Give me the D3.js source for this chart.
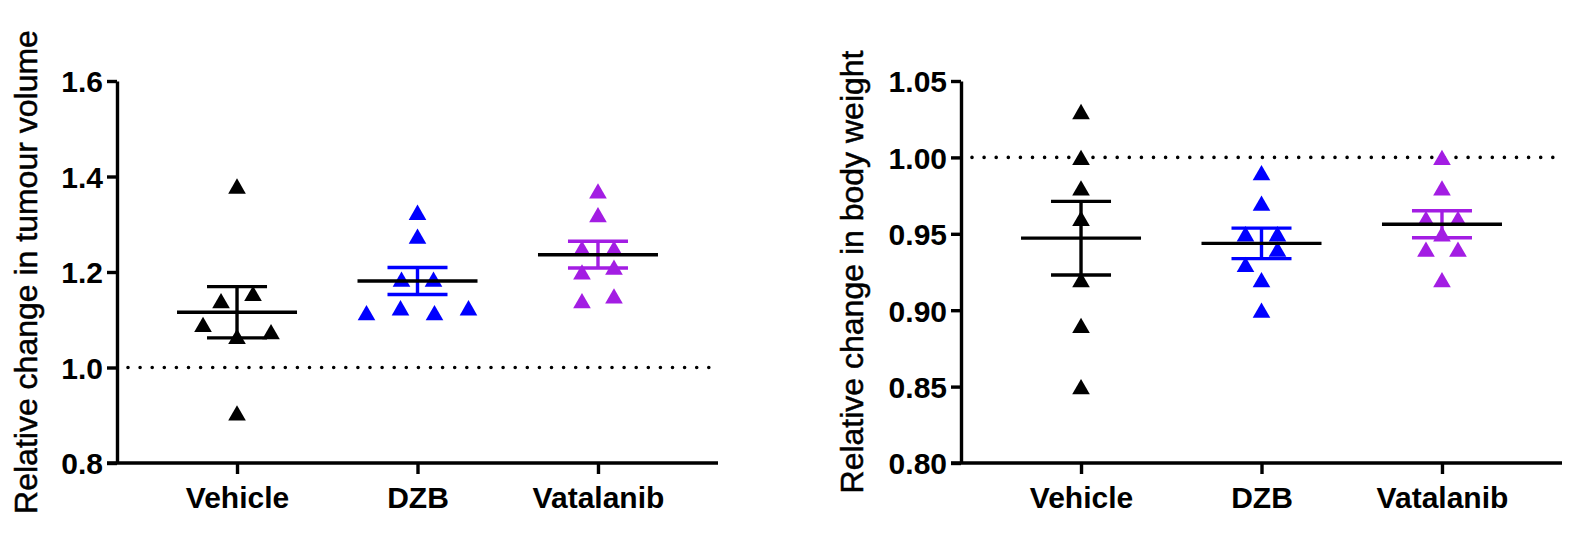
<!DOCTYPE html>
<html>
<head>
<meta charset="utf-8">
<script src="https://cdn.jsdelivr.net/npm/d3@7"></script>
<style>
  body { margin: 0; background: #fff; }
  text { font-family: "Liberation Sans", Arial, sans-serif; }
</style>
</head>
<body>
<div id="chart"></div>
<script>
// categories and group colours
const groups = ["Vehicle", "DZB", "Vatalanib"];
const groupColors = ["#000000", "#0000ff", "#a31de3"];

// left panel: relative change in tumour volume
const tumourVehicle = [1.38, 1.14, 1.155, 1.09, 1.065, 1.075, 0.905];
const tumourDZB = [1.325, 1.275, 1.185, 1.185, 1.115, 1.125, 1.115, 1.125];
const tumourVatalanib = [1.37, 1.32, 1.25, 1.25, 1.20, 1.21, 1.14, 1.15];
const tumourTicks = [0.8, 1.0, 1.2, 1.4, 1.6];

// right panel: relative change in body weight
const weightVehicle = [1.03, 1.00, 0.98, 0.96, 0.92, 0.89, 0.85];
const weightDZB = [0.99, 0.97, 0.95, 0.95, 0.93, 0.94, 0.92, 0.90];
const weightVatalanib = [1.00, 0.98, 0.96, 0.96, 0.95, 0.94, 0.94, 0.92];
const weightTicks = [0.80, 0.85, 0.90, 0.95, 1.00, 1.05];

const W = 1575, H = 542;

var svg = d3.select("#chart")
  .append("svg")
    .attr("width", W)
    .attr("height", H);

const plotTop = 81, plotBottom = 463;

function panel(opt) {
  var g = svg.append("g");
  var x0 = opt.left, x1 = opt.left + 601;

  var x = d3.scalePoint()
    .domain(groups)
    .range([x0, x1])
    .padding(0.665);

  var y = d3.scaleLinear()
    .domain([opt.ticks[0], opt.ticks[opt.ticks.length - 1]])
    .range([plotBottom, plotTop]);

  // dotted reference line
  g.append("line")
    .attr("x1", x0 + 11).attr("x2", x1)
    .attr("y1", y(1)).attr("y2", y(1))
    .attr("stroke", "#000")
    .attr("stroke-width", 3.6)
    .attr("stroke-linecap", "round")
    .attr("stroke-dasharray", "0 12.1");

  // points, spread sideways when they sit in the same row
  var tri = d3.symbol().type(d3.symbolTriangle).size(135);
  opt.series.forEach(function (vals, gi) {
    var pts = vals.map(function (v, i) { return {v: v, i: i, py: y(v)}; });
    var sorted = pts.slice().sort(function (a, b) { return b.v - a.v; });
    var rows = [];
    sorted.forEach(function (p) {
      var r = rows[rows.length - 1];
      if (r && Math.abs(p.py - r[0].py) < 14) r.push(p);
      else rows.push([p]);
    });
    // pair neighbouring single points that would touch
    var merged = [];
    for (var k = 0; k < rows.length; k++) {
      var r = rows[k], nx = rows[k + 1];
      if (r.length == 1 && nx && nx.length == 1 && Math.abs(nx[0].py - r[0].py) < 17) {
        merged.push([r[0], nx[0]]);
        k++;
      } else merged.push(r);
    }
    merged.forEach(function (r) {
      r.sort(function (a, b) { return a.i - b.i; });
      var step = r.length > 2 ? 34 : 32;
      r.forEach(function (p, j) { p.dx = (j - (r.length - 1) / 2) * step; });
    });

    g.selectAll(null)
      .data(pts)
      .enter()
      .append("path")
      .attr("d", tri)
      .attr("transform", function (d) {
        return "translate(" + (x(groups[gi]) + d.dx) + "," + (d.py + 2.5) + ")";
      })
      .attr("fill", groupColors[gi]);
  });

  // mean and SEM
  opt.series.forEach(function (vals, gi) {
    var cx = x(groups[gi]);
    var m = d3.mean(vals);
    var sem = d3.deviation(vals) / Math.sqrt(vals.length);
    var eb = g.append("g")
      .attr("stroke", groupColors[gi])
      .attr("stroke-width", 3.4);
    eb.append("line").attr("x1", cx).attr("x2", cx).attr("y1", y(m + sem)).attr("y2", y(m - sem));
    eb.append("line").attr("x1", cx - 30).attr("x2", cx + 30).attr("y1", y(m + sem)).attr("y2", y(m + sem));
    eb.append("line").attr("x1", cx - 30).attr("x2", cx + 30).attr("y1", y(m - sem)).attr("y2", y(m - sem));
    g.append("line")
      .attr("x1", cx - 60).attr("x2", cx + 60)
      .attr("y1", y(m)).attr("y2", y(m))
      .attr("stroke", "#000")
      .attr("stroke-width", 3.4);
  });

  // y axis
  var yAxis = g.append("g")
    .attr("transform", "translate(" + x0 + ",0)")
    .call(d3.axisLeft(y)
      .tickValues(opt.ticks)
      .tickSize(10)
      .tickSizeOuter(0)
      .tickPadding(4)
      .tickFormat(d3.format(opt.fmt)));
  yAxis.select(".domain").attr("stroke-width", 3.4);
  yAxis.selectAll(".tick line").attr("stroke-width", 3.4);
  yAxis.selectAll(".tick text")
    .attr("font-size", 30)
    .attr("font-weight", "bold")
    .attr("fill", "#000")
    .attr("dy", "0.36em");

  // x axis
  var xAxis = g.append("g")
    .attr("transform", "translate(0," + plotBottom + ")")
    .call(d3.axisBottom(x)
      .tickSize(11)
      .tickSizeOuter(0)
      .tickPadding(13));
  xAxis.select(".domain").remove();
  xAxis.append("line")
    .attr("x1", x0 - 10).attr("x2", x1)
    .attr("stroke", "#000")
    .attr("stroke-width", 3.4);
  xAxis.selectAll(".tick line").attr("stroke-width", 3.4);
  xAxis.selectAll(".tick text")
    .attr("font-size", 30)
    .attr("font-weight", "bold")
    .attr("fill", "#000");

  // axis title
  g.append("text")
    .attr("transform", "translate(" + opt.titleX + ",272) rotate(-90)")
    .attr("text-anchor", "middle")
    .attr("font-size", 32)
    .attr("fill", "#000")
    .attr("stroke", "#000")
    .attr("stroke-width", 0.5)
    .text(opt.title);
}

panel({
  left: 117,
  series: [tumourVehicle, tumourDZB, tumourVatalanib],
  ticks: tumourTicks,
  fmt: ".1f",
  title: "Relative change in tumour volume",
  titleX: 37
});

panel({
  left: 961,
  series: [weightVehicle, weightDZB, weightVatalanib],
  ticks: weightTicks,
  fmt: ".2f",
  title: "Relative change in body weight",
  titleX: 863
});
</script>
</body>
</html>
